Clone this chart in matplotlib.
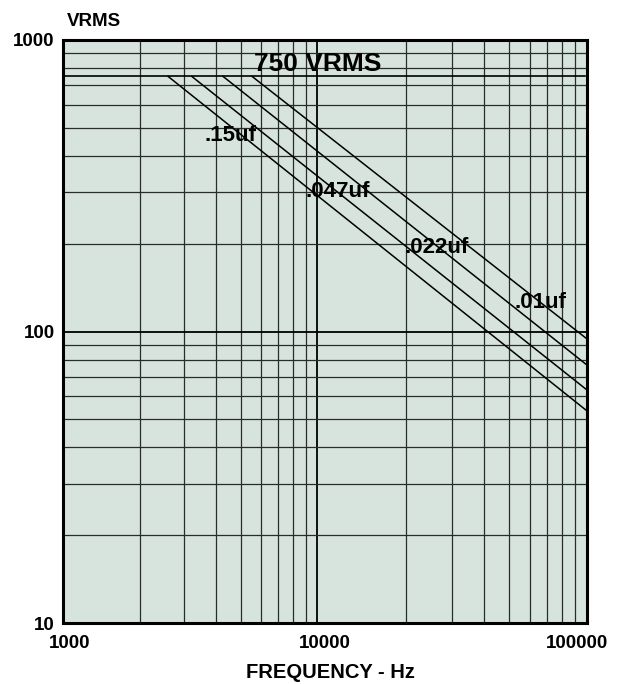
import numpy as np
import matplotlib
matplotlib.use("Agg")
import matplotlib.pyplot as plt
import matplotlib.transforms as mtransforms

plt.rcParams['font.family'] = ['Liberation Sans', 'DejaVu Sans']
plt.rcParams['font.weight'] = 'bold'

# axis decades and grid
freq_major = [1000, 10000, 100000]
freq_minor = [2000, 3000, 4000, 5000, 6000, 7000, 8000, 9000,
              20000, 30000, 40000, 50000, 60000, 70000, 80000, 90000]
volt_major = [10, 100, 1000]
volt_minor = [20, 30, 40, 50, 60, 70, 80, 90,
              200, 300, 400, 500, 600, 700, 800, 900]

# rated voltage and derating curves (start on the 750 V line, end at 100 kHz)
rated_vrms = 750
cap_labels = ['.15uf', '.047uf', '.022uf', '.01uf']
curve_start_freq = [2590, 3210, 4260, 5540]
curve_end_volts = [53.4, 63.0, 76.7, 94.3]
label_freq = [4557, 11755, 26340, 65870]
label_volts = [470, 303, 194, 125.5]

# the printed chart paper isn't a perfectly even log grid
knots_log = [3.0, 4.0, np.log10(20000), 5.0]
knots_pos = [0.0, 254.3, 343.0, 524.0]


def fwd(x):
    lx = np.log10(np.clip(np.asarray(x, dtype=float), 1e-6, None))
    return np.interp(lx, knots_log, knots_pos, left=-1e3, right=1e3)


def inv(v):
    return 10 ** np.interp(v, knots_pos, knots_log)


fig = plt.figure(figsize=(6.22, 6.84), dpi=100)
ax = fig.add_axes([63 / 622, 61 / 684, 524 / 622, 583 / 684])
ax.set_facecolor('#d6e4dd')

ax.set_xscale('function', functions=(fwd, inv))
ax.set_yscale('log')
ax.set_xlim(1000, 100000)
ax.set_ylim(10, 1000)

ax.set_xticks(freq_major)
ax.set_xticks(freq_minor, minor=True)
ax.set_yticks(volt_major)
ax.set_yticks(volt_minor, minor=True)
ax.set_xticklabels([str(v) for v in freq_major])
ax.set_yticklabels([str(v) for v in volt_major])
ax.yaxis.set_minor_formatter(plt.NullFormatter())
ax.xaxis.set_minor_formatter(plt.NullFormatter())

ax.tick_params(which='both', length=0)
ax.tick_params(axis='x', pad=9, labelsize=13.5)
ax.tick_params(axis='y', pad=6, labelsize=13.5)

# nudge the frequency labels the way they sit on the printed sheet
x_shift_px = [7, 8, -10]
for lab, dx in zip(ax.get_xticklabels(), x_shift_px):
    off = mtransforms.ScaledTranslation(dx / 100, 0, fig.dpi_scale_trans)
    lab.set_transform(lab.get_transform() + off)

ax.grid(which='minor', color='#2b2b2b', lw=0.9)
ax.grid(which='major', color='black', lw=1.3)

for sp in ax.spines.values():
    sp.set_linewidth(2.2)
    sp.set_zorder(5)

# 750 VRMS limit
ax.plot([1000, 98000], [rated_vrms, rated_vrms], color='black', lw=1.2)
ax.text(10000, 827, '750 VRMS', fontsize=19, ha='center', va='center')

for f0, v1, lab, lf, lv in zip(curve_start_freq, curve_end_volts,
                               cap_labels, label_freq, label_volts):
    ax.plot([f0, 100000], [rated_vrms, v1], color='black', lw=1.1)
    ax.text(lf, lv, lab, fontsize=16, ha='center', va='center')

fig.text(93.5 / 622, 1 - 21 / 684, 'VRMS', fontsize=13.5,
         ha='center', va='center')
fig.text(330.5 / 622, 1 - 672 / 684, 'FREQUENCY - Hz', fontsize=14.5,
         ha='center', va='center')

fig.savefig('out.png', dpi=100)
